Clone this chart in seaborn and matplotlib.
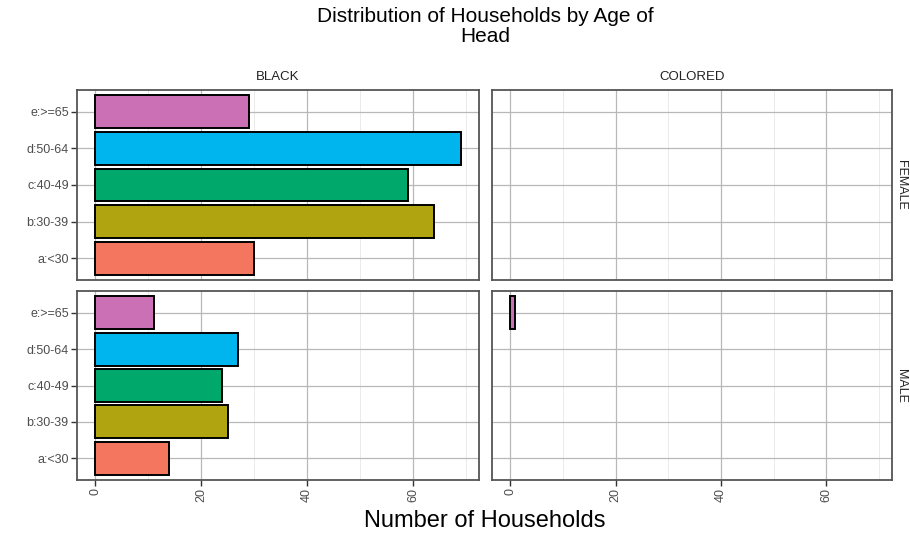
import matplotlib
matplotlib.use("Agg")
import matplotlib.pyplot as plt
import matplotlib.ticker as mticker
import seaborn as sns
import pandas as pd

# Age of head categories (a at bottom, e at top as in the reference)
ages = ["a:<30", "b:30-39", "c:40-49", "d:50-64", "e:>=65"]
races = ["BLACK", "COLORED"]
sexes = ["FEMALE", "MALE"]

# Number of households
black_female = [30, 64, 59, 69, 29]
black_male = [14, 25, 24, 27, 11]
colored_female = [0, 0, 0, 0, 0]
colored_male = [0, 0, 0, 0, 1]

age_colors = ["#F4765F", "#B0A410", "#00A86C", "#00B4EE", "#CC70B5"]


def build_frame():
    rows = []
    series = {
        ("BLACK", "FEMALE"): black_female,
        ("BLACK", "MALE"): black_male,
        ("COLORED", "FEMALE"): colored_female,
        ("COLORED", "MALE"): colored_male,
    }
    for (race, sex), vals in series.items():
        for age, n in zip(ages, vals):
            rows.append({"race": race, "sex": sex, "age": age, "n": n})
    df = pd.DataFrame(rows)
    return df[df["n"] > 0]


def main():
    sns.set_theme(style="white")
    plt.rcParams["font.family"] = ["Liberation Sans", "DejaVu Sans"]

    df = build_frame()
    palette = dict(zip(ages, age_colors))
    order = ages[::-1]

    fig = plt.figure(figsize=(9.1, 5.36), dpi=100)
    W, H = 910, 536
    cols_px = [(77, 479), (492, 892)]
    rows_px = [(90, 280), (291, 480)]

    xmax = df["n"].max()
    pad = xmax * 0.05

    for r, sex in enumerate(sexes):
        for c, race in enumerate(races):
            x0, x1 = cols_px[c]
            y0, y1 = rows_px[r]
            ax = fig.add_axes([x0 / W, 1 - y1 / H, (x1 - x0) / W, (y1 - y0) / H])
            sub = df[(df["race"] == race) & (df["sex"] == sex)]
            if len(sub):
                sns.barplot(data=sub, x="n", y="age", hue="age", order=order,
                            hue_order=ages, palette=palette, orient="h",
                            width=0.9, dodge=False, saturation=1,
                            edgecolor="black", linewidth=1.4, legend=False, ax=ax)
            ax.set_yticks(range(len(order)))
            ax.set_yticklabels(order if c == 0 else [])
            ax.set_ylim(len(order) - 0.4, -0.6)
            ax.set_xlim(-pad, xmax + pad)
            ax.set_xlabel("")
            ax.set_ylabel("")

            ax.xaxis.set_major_locator(mticker.MultipleLocator(20))
            ax.xaxis.set_minor_locator(mticker.MultipleLocator(10))
            ax.grid(True, which="major", color="#b8b8b8", linewidth=0.9)
            ax.grid(True, which="minor", axis="x", color="#e2e2e2", linewidth=0.5)
            ax.set_axisbelow(True)
            for s in ax.spines.values():
                s.set_color("#555555")
                s.set_linewidth(1.3)

            ax.tick_params(which="major", length=4, width=1, color="#333333",
                           labelsize=9, labelcolor="#4d4d4d", pad=2,
                           bottom=(r == 1), left=(c == 0))
            ax.tick_params(which="minor", length=0)
            if r == 1:
                for lbl in ax.get_xticklabels():
                    lbl.set_rotation(90)
                    lbl.set_va("top")
            else:
                ax.set_xticklabels([])

            if r == 0:
                ax.set_title(race, fontsize=9.5, color="#222222", pad=7)
            if c == 1:
                fig.text(901 / W, 1 - (y0 + y1) / 2 / H, sex, rotation=-90,
                         ha="center", va="center", fontsize=9, color="#222222")

    fig.text(485 / W, 1 - 7 / H, "Distribution of Households by Age of\nHead",
             ha="center", va="top", fontsize=15, linespacing=1.05, color="black")
    fig.text(485 / W, 1 - 521 / H, "Number of Households",
             ha="center", va="center", fontsize=17, color="black")

    fig.savefig("out.png", dpi=100)
    plt.close(fig)


if __name__ == "__main__":
    main()
